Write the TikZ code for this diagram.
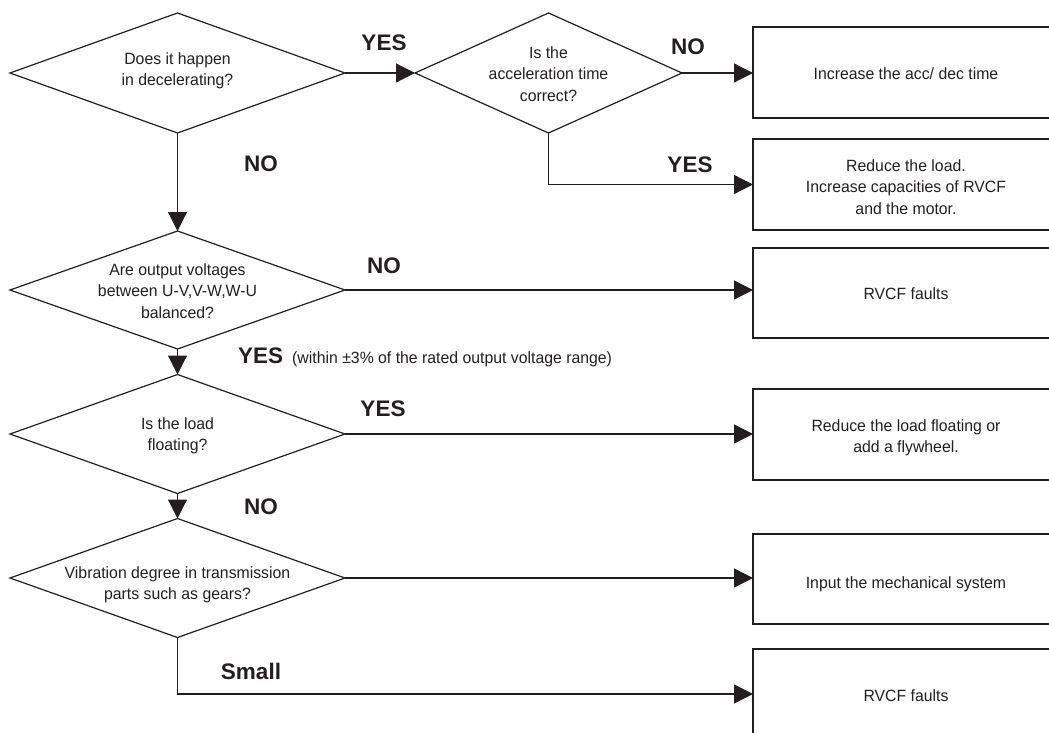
\documentclass[tikz,border=0pt]{standalone}
\usepackage{fontspec}
\setmainfont[FakeStretch=0.97]{Liberation Sans}
\newfontfamily\labelfam{Liberation Sans}
\usetikzlibrary{shapes.geometric,arrows.meta,calc}
\definecolor{linec}{HTML}{231F20}
\definecolor{textc}{HTML}{231F20}
\newcommand\myqfont{\fontsize{16.3}{21.5}\selectfont}
\newcommand\mylblfont{\labelfam\bfseries\fontsize{22.5}{24}\selectfont}
\tikzset{
  dia/.style={diamond, draw=linec, line width=1.2pt, inner sep=0pt, outer sep=0pt},
  resbox/.style={rectangle, draw=linec, line width=1.4pt, minimum width=330pt, minimum height=91pt, inner sep=0pt, outer sep=0pt, anchor=north west},
  qtext/.style={align=center, font=\myqfont, text=textc, inner sep=0pt},
  lbl/.style={font=\mylblfont, text=textc, inner sep=0pt},
  arr/.style={draw=linec, line width=1.2pt, -{Triangle[length=19pt,width=19pt]}},
}
\begin{document}
\begin{tikzpicture}[x=1pt,y=-1pt]
\useasboundingbox (0,0) rectangle (1049,733);
\clip (0,0) rectangle (1049,733);
% decisions
\node[dia, minimum width=335pt, minimum height=120pt] (d1) at (177.5,73) {};
\node[dia, minimum width=267pt, minimum height=120pt] (d2) at (548.5,73) {};
\node[dia, minimum width=335pt, minimum height=118pt] (d3) at (177.5,290) {};
\node[dia, minimum width=335pt, minimum height=119pt] (d4) at (177.5,434) {};
\node[dia, minimum width=335pt, minimum height=119pt] (d5) at (177.5,578) {};
\node[qtext] (t1) at (177.5,71) {Does it happen\\in decelerating?};
\node[qtext] (t2) at (548.5,74) {Is the\\acceleration time\\correct?};
\node[qtext] (t3) at (177.5,291) {Are output voltages\\between U-V,V-W,W-U\\balanced?};
\node[qtext] (t4) at (177.5,436) {Is the load\\floating?};
\node[qtext] (t5) at (177.5,585) {Vibration degree in transmission\\parts such as gears?};
% result boxes
\node[resbox, minimum height=91pt] (b1) at (753,27) {};
\node[resbox, minimum height=91pt] (b2) at (753,139) {};
\node[resbox, minimum height=90pt] (b3) at (753,248) {};
\node[resbox, minimum height=91pt] (b4) at (753,389) {};
\node[resbox, minimum height=90pt] (b5) at (753,534) {};
\node[resbox, minimum height=90pt] (b6) at (753,649) {};
\node[qtext] (r1) at (906,74) {Increase the acc/ dec time};
\node[qtext] (r2) at (906,187) {Reduce the load.\\Increase capacities of RVCF\\and the motor.};
\node[qtext] (r3) at (906,294) {RVCF faults};
\node[qtext] (r4) at (906,438) {Reduce the load floating or\\add a flywheel.};
\node[qtext] (r5) at (906,584) {Input the mechanical system};
\node[qtext] (r6) at (906,696) {RVCF faults};
% connectors
\draw[arr] (d1.east) -- (d2.west);
\draw[arr] (d2.east) -- (d2.east -| b1.west);
\draw[arr] (d2.south) |- (b2.west);
\draw[arr] (d1.south) -- (d3.north);
\draw[arr] (d3.east) -- (d3.east -| b3.west);
\draw[arr] (d3.south) -- (d4.north);
\draw[arr] (d4.east) -- (d4.east -| b4.west);
\draw[arr] (d4.south) -- (d5.north);
\draw[arr] (d5.east) -- (d5.east -| b5.west);
\draw[arr] (d5.south) |- (b6.west);
% labels
\node[lbl] (l1) at (384,43) {YES};
\node[lbl] (l2) at (688,47) {NO};
\node[lbl] (l3) at (690,165) {YES};
\node[lbl] (l4) at (261,164) {NO};
\node[lbl] (l5) at (384,266) {NO};
\node[lbl, anchor=west] (l6) at (238,357) {YES\hspace{9pt}{\normalfont\myqfont(within \char"00B1 3\% of the rated output voltage range)}};
\node[lbl] (l7) at (383,409) {YES};
\node[lbl] (l8) at (261,507) {NO};
\node[lbl] (l9) at (251,671) {Small};
\end{tikzpicture}
\end{document}
